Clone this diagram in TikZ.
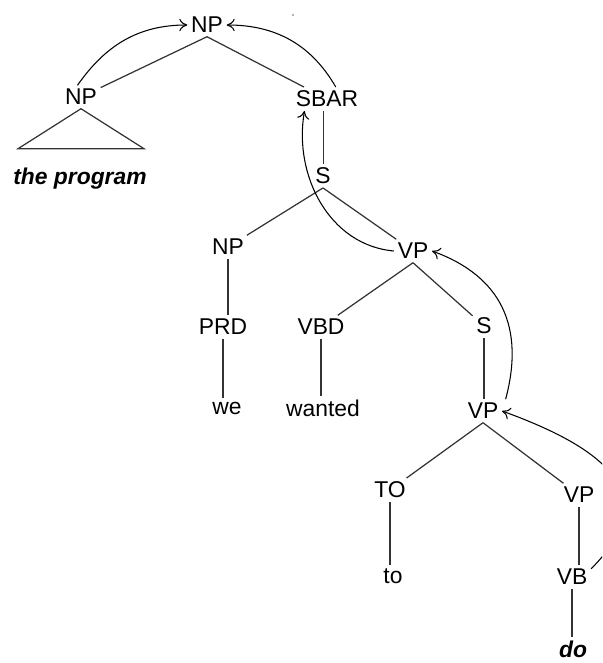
\documentclass[tikz,border=0pt]{standalone}
\usepackage{fontspec}
\setmainfont{Liberation Sans}
\usetikzlibrary{arrows.meta}
\begin{document}
\begin{tikzpicture}[font=\fontsize{13}{15}\selectfont]
        \tikzstyle{cat}=[inner sep=2pt]
        \tikzstyle{word}=[inner sep=2pt,font=\fontsize{13}{15}\selectfont\bfseries\itshape]
        \tikzstyle{branch}=[line width=0.7pt,draw=black!80]
        \tikzstyle{move}=[line width=0.6pt,-{To[length=4.5pt,width=7pt]}]

        \useasboundingbox (0,0) rectangle (12.04,-13.26);
        \clip (0,0) rectangle (12.04,-13.26);

        \node (np0)[cat] at (4.14,-0.5) {NP};
        \node (np1)[cat] at (1.62,-1.94) {NP};
        \node (prog)[word] at (1.6,-3.58) {the program};
        \node (sbar)[cat] at (6.54,-1.98) {SBAR};
        \node (s0)[cat] at (6.46,-3.52) {S};
        \node (np2)[cat] at (4.56,-4.94) {NP};
        \node (vp0)[cat] at (8.26,-5.02) {VP};
        \node (prd)[cat] at (4.46,-6.54) {PRD};
        \node (vbd)[cat] at (6.42,-6.54) {VBD};
        \node (we)[cat] at (4.54,-8.16) {we};
        \node (wanted)[cat] at (6.46,-8.16) {wanted};
        \node (s1)[cat] at (9.68,-6.52) {S};
        \node (vp1)[cat] at (9.66,-8.22) {VP};
        \node (to0)[cat] at (7.8,-9.8) {TO};
        \node (vp2)[cat] at (11.58,-9.9) {VP};
        \node (to)[cat] at (7.86,-11.52) {to};
        \node (vb)[cat] at (11.44,-11.54) {VB};
        \node (do)[word] at (11.46,-12.99) {do};

        \fill[black!60] (5.86,-0.3) circle (0.018);

        \draw[branch] (np0.south) -- (np1);
        \draw[branch] (np0.south) -- (sbar);
        \draw[branch] (np1.south) -- ++(-1.26,-0.8) -- ++(2.52,0) -- cycle;
        \draw[branch] ([xshift=-2pt]sbar.south) -- ([xshift=-2pt]sbar.south |- s0.north);
        \draw[branch] (s0.south) -- (np2);
        \draw[branch] (s0.south) -- (vp0);
        \draw[branch] (np2.south) -- (np2.south |- prd.north);
        \draw[branch] (prd.south) -- (prd.south |- we.north);
        \draw[branch] (vp0.south) -- (vbd);
        \draw[branch] (vp0.south) -- (s1);
        \draw[branch] (vbd.south) -- (vbd.south |- wanted.north);
        \draw[branch] (s1.south) -- (s1.south |- vp1.north);
        \draw[branch] (vp1.south) -- (to0);
        \draw[branch] (vp1.south) -- (vp2);
        \draw[branch] (to0.south) -- (to0.south |- to.north);
        \draw[branch] (vp2.south) -- (vp2.south |- vb.north);
        \draw[branch] (vb.south) -- (vb.south |- do.north);

        \draw[move] ([xshift=-2pt]np1.north) to[out=55,in=180] (np0.west);
        \draw[move] ([xshift=5pt]sbar.north) to[out=120,in=0] (np0.east);
        \draw[move] (vp0.west) to[out=175,in=-100] ([xshift=-0.45cm]sbar.south);
        \draw[move] ([xshift=2pt]vp1.north east) to[out=75,in=-20,looseness=1.15] (vp0.east);
        \draw[move] ([yshift=-2pt]vb.north east) to[out=45,in=-20,looseness=1.5] (vp1.east);
    \end{tikzpicture}
\end{document}
